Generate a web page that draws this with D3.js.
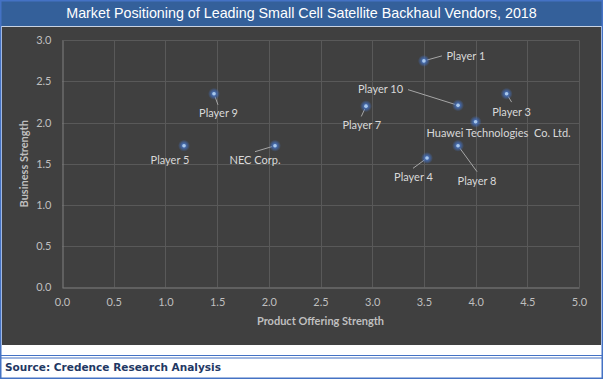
<!DOCTYPE html>
<html><head><meta charset="utf-8">
<script src="https://cdn.jsdelivr.net/npm/d3@7"></script>
<style>
html,body{margin:0;padding:0;background:#fff;}
svg{display:block;}
text{white-space:pre;}
</style></head>
<body>
<script>
// ---- data ----
const players = ["Player 1","Player 10","Player 3","Player 7","Huawei Technologies  Co. Ltd.","Player 8","Player 4","Player 9","Player 5","NEC Corp."];
const productOffering = [3.50, 3.83, 4.30, 2.94, 4.00, 3.83, 3.53, 1.47, 1.18, 2.06];
const businessStrength = [2.75, 2.21, 2.35, 2.20, 2.01, 1.72, 1.57, 2.35, 1.72, 1.72];
const xTicks = [0,0.5,1,1.5,2,2.5,3,3.5,4,4.5,5];
const yTicks = [0,0.5,1,1.5,2,2.5,3];
const title = "Market Positioning of Leading Small Cell Satellite Backhaul Vendors, 2018";
const xTitle = "Product Offering Strength";
const yTitle = "Business Strength";
const source = "Source: Credence Research Analysis";

// ---- layout (label placement: text centre offset, leader end offset) ----
const labelLayout = [
  {dx:42, dy:-4.7, lx:18, ly:-5},
  {dx:-77.5, dy:-15.7, lx:-50, ly:-15.7},
  {dx:5, dy:18.3, lx:5, ly:8.3},
  {dx:-4.2, dy:19.3, lx:-4.7, ly:10.3},
  {dx:23, dy:11.6, lx:null, ly:null},
  {dx:19, dy:35, lx:19, ly:26},
  {dx:-13.5, dy:19, lx:-14, ly:10.3},
  {dx:4.5, dy:19.7, lx:4, ly:11},
  {dx:-14, dy:14.7, lx:null, ly:null},
  {dx:-20, dy:14.7, lx:-20, ly:6}
];

const W = 603, H = 379;
const svg = d3.select("body").append("svg").attr("width", W).attr("height", H);

// backgrounds
svg.append("rect").attr("x",0).attr("y",0).attr("width",W).attr("height",H).attr("fill","#ffffff");
svg.append("rect").attr("x",0).attr("y",0).attr("width",W).attr("height",26).attr("fill","#34609A");
svg.append("rect").attr("x",2).attr("y",27).attr("width",W-4).attr("height",318).attr("fill","#404040");
svg.append("line").attr("x1",2).attr("x2",W-2).attr("y1",26.5).attr("y2",26.5).attr("stroke","#C9D3E3").attr("stroke-width",1);
// double rule above source
svg.append("line").attr("x1",0).attr("x2",W).attr("y1",355.5).attr("y2",355.5).attr("stroke","#4472C4").attr("stroke-width",1.2);
svg.append("line").attr("x1",0).attr("x2",W).attr("y1",358).attr("y2",358).attr("stroke","#4472C4").attr("stroke-width",1.2);
// outer border
svg.append("rect").attr("x",0.75).attr("y",0.75).attr("width",W-1.5).attr("height",H-1.5).attr("fill","none").attr("stroke","#4472C4").attr("stroke-width",1.5);

// title
svg.append("text").attr("x",W/2).attr("y",18).attr("text-anchor","middle")
  .attr("font-family","'Liberation Sans', Arial, sans-serif").attr("font-size",14.3).attr("fill","#ffffff").text(title);

// source
svg.append("text").attr("x",5).attr("y",370.5)
  .attr("font-family","'DejaVu Sans', Verdana, sans-serif").attr("font-weight","bold").attr("font-size",11)
  .attr("textLength",216).attr("lengthAdjust","spacingAndGlyphs")
  .attr("fill","#1F3864").text(source);

// scales
const x = d3.scaleLinear().domain([0,5]).range([62,579]);
const y = d3.scaleLinear().domain([0,3]).range([287.3,40.3]);

const font = "Lato, 'Open Sans', sans-serif";

// gridlines
const grid = svg.append("g");
grid.selectAll("line.v").data(xTicks.slice(1)).join("line")
  .attr("x1",d=>Math.round(x(d))+0.5).attr("x2",d=>Math.round(x(d))+0.5)
  .attr("y1",y(3)).attr("y2",y(0)).attr("stroke","#595959").attr("stroke-width",1);
grid.selectAll("line.h").data(yTicks.slice(1)).join("line")
  .attr("y1",d=>Math.round(y(d))+0.5).attr("y2",d=>Math.round(y(d))+0.5)
  .attr("x1",x(0)).attr("x2",x(5)).attr("stroke","#595959").attr("stroke-width",1);

// axes
const xAxis = svg.append("g").attr("transform",`translate(0,${Math.round(y(0))+0.5})`)
  .call(d3.axisBottom(x).tickValues(xTicks).tickFormat(d3.format(".1f")).tickSize(0).tickPadding(11));
const yAxis = svg.append("g").attr("transform",`translate(${Math.round(x(0))+0.5},0)`)
  .call(d3.axisLeft(y).tickValues(yTicks).tickFormat(d3.format(".1f")).tickSize(0).tickPadding(11));
[xAxis,yAxis].forEach(a=>{
  a.select(".domain").attr("stroke","#808080").attr("stroke-width",1);
  a.selectAll("text").attr("font-family",font).attr("font-size",11).attr("fill","#BFBFBF");
});

// axis titles
svg.append("text").attr("x",(x(0)+x(5))/2).attr("y",325).attr("text-anchor","middle")
  .attr("font-family",font).attr("font-weight","bold").attr("font-size",11).attr("fill","#BFBFBF").text(xTitle);
svg.append("text").attr("transform",`translate(28,${(y(0)+y(3))/2}) rotate(-90)`).attr("text-anchor","middle")
  .attr("font-family",font).attr("font-weight","bold").attr("font-size",11).attr("fill","#BFBFBF").text(yTitle);

// glow gradient
const defs = svg.append("defs");
const rg = defs.append("radialGradient").attr("id","glow");
rg.append("stop").attr("offset","0%").attr("stop-color","#5B8BD6").attr("stop-opacity",0.95);
rg.append("stop").attr("offset","45%").attr("stop-color","#4472C4").attr("stop-opacity",0.7);
rg.append("stop").attr("offset","100%").attr("stop-color","#4472C4").attr("stop-opacity",0);

const pts = players.map((p,i)=>({name:p, px:x(productOffering[i]), py:y(businessStrength[i]), L:labelLayout[i]}));

// leader lines
svg.append("g").selectAll("line").data(pts.filter(d=>d.L.lx!==null)).join("line")
  .each(function(d){
    const ex=d.px+d.L.lx, ey=d.py+d.L.ly;
    const len=Math.hypot(ex-d.px,ey-d.py);
    const s=3/len;
    d3.select(this).attr("x1",d.px+(ex-d.px)*s).attr("y1",d.py+(ey-d.py)*s).attr("x2",ex).attr("y2",ey);
  })
  .attr("stroke","#A6A6A6").attr("stroke-width",1);

// points
const g = svg.append("g");
g.selectAll("circle.g").data(pts).join("circle").attr("cx",d=>d.px).attr("cy",d=>d.py).attr("r",6).attr("fill","url(#glow)");
g.selectAll("circle.d").data(pts).join("circle").attr("cx",d=>d.px).attr("cy",d=>d.py).attr("r",1.8).attr("fill","#A9C8EC");

// labels
svg.append("g").selectAll("text").data(pts).join("text")
  .attr("x",d=>d.px+d.L.dx).attr("y",d=>d.py+d.L.dy).attr("dy","0.35em").attr("text-anchor","middle")
  .attr("font-family",font).attr("font-size",11).attr("fill","#D9D9D9").text(d=>d.name);
</script>
</body></html>
